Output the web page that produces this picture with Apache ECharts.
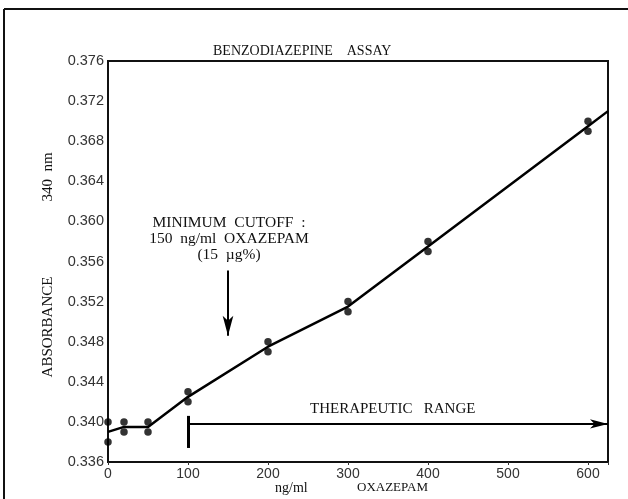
<!DOCTYPE html>
<html>
<head>
<meta charset="UTF-8">
<title>Benzodiazepine Assay</title>
<script src="https://cdn.jsdelivr.net/npm/echarts/dist/echarts.min.js"></script>
<style>
  html, body { margin: 0; padding: 0; background: #fff; }
  #main { width: 628px; height: 499px; }
</style>
</head>
<body>
<div id="main"></div>
<script>
// measured points (ng/ml oxazepam, absorbance 340 nm)
var pointConc = [0, 0, 20, 20, 50, 50, 100, 100, 200, 200, 300, 300, 400, 400, 600, 600];
var pointAbs  = [0.340, 0.338, 0.340, 0.339, 0.340, 0.339, 0.343, 0.342, 0.348, 0.347, 0.352, 0.351, 0.358, 0.357, 0.370, 0.369];

// fitted curve
var curveConc = [0, 20, 50, 100, 200, 300, 400, 600, 625];
var curveAbs  = [0.339, 0.3395, 0.3395, 0.3425, 0.3475, 0.3515, 0.3575, 0.3695, 0.371];

// annotations
var rangeStart = 100, rangeEnd = 625, rangeAbs = 0.3398;
var rangeBar = [0.3406, 0.3374];
var cutoffConc = 150, cutoffArrow = [0.3551, 0.3486];

var xTicks = [0, 100, 200, 300, 400, 500, 600];

var chart = echarts.init(document.getElementById('main'));

var serif = '"Liberation Serif", "DejaVu Serif", serif';
var sans = '"Liberation Sans", Arial, sans-serif';

var option = {
  animation: false,
  grid: { left: 108, top: 61, right: 20, bottom: 37, show: true, borderColor: '#111', borderWidth: 2, backgroundColor: 'transparent' },
  xAxis: {
    type: 'value', min: 0, max: 625, interval: 100,
    axisLine: { show: false },
    axisTick: { show: true, length: 3, lineStyle: { color: '#333' } },
    splitLine: { show: false },
    axisLabel: {
      color: '#333', fontFamily: sans, fontSize: 14, margin: 5,
      formatter: function (v) { return xTicks.indexOf(v) >= 0 ? String(v) : ''; }
    }
  },
  yAxis: {
    type: 'value', min: 0.336, max: 0.376, interval: 0.004,
    axisLine: { show: false },
    axisTick: { show: false },
    splitLine: { show: false },
    axisLabel: {
      color: '#333', fontFamily: sans, fontSize: 14.5, margin: 4,
      formatter: function (v) { return v.toFixed(3); }
    }
  },
  series: [
    {
      type: 'line',
      data: curveConc.map(function (c, i) { return [c, curveAbs[i]]; }),
      showSymbol: false,
      symbol: 'none',
      lineStyle: { color: '#000', width: 2.5 },
      markLine: {
        silent: true,
        label: { show: false },
        data: [
          [
            { coord: [rangeStart, rangeAbs], symbol: 'none' },
            { coord: [rangeEnd, rangeAbs], symbol: 'arrow', symbolSize: [7, 18] }
          ],
          [
            { coord: [rangeStart, rangeBar[0]], symbol: 'none' },
            { coord: [rangeStart, rangeBar[1]], symbol: 'none', lineStyle: { width: 3 } }
          ],
          [
            { coord: [cutoffConc, cutoffArrow[0]], symbol: 'none' },
            { coord: [cutoffConc, cutoffArrow[1]], symbol: 'arrow', symbolSize: [8, 20] }
          ]
        ],
        lineStyle: { color: '#000', width: 2, type: 'solid' }
      },
      z: 2
    },
    {
      type: 'scatter',
      data: pointConc.map(function (c, i) { return [c, pointAbs[i]]; }),
      symbol: 'circle',
      symbolSize: 7.5,
      itemStyle: { color: '#000' },
      z: 3
    }
  ],
  graphic: [
    { type: 'line', shape: { x1: 4, y1: 9, x2: 628, y2: 9 }, style: { stroke: '#111', lineWidth: 2 } },
    { type: 'line', shape: { x1: 4, y1: 9, x2: 4, y2: 499 }, style: { stroke: '#111', lineWidth: 2 } },
    { type: 'text', left: 213, top: 44, style: { text: 'BENZODIAZEPINE    ASSAY', font: '14px ' + serif, fill: '#111' } },
    { type: 'text', x: 229, y: 215, style: { text: 'MINIMUM  CUTOFF  :\n150  ng/ml  OXAZEPAM\n(15  \u00b5g%)', font: '15.5px ' + serif, fill: '#111', textAlign: 'center', lineHeight: 16 } },
    { type: 'text', left: 310, top: 402, style: { text: 'THERAPEUTIC   RANGE', font: '15px ' + serif, fill: '#111' } },
    { type: 'text', left: 275, top: 481, style: { text: 'ng/ml', font: '14px ' + serif, fill: '#111' } },
    { type: 'text', left: 357, top: 481, style: { text: 'OXAZEPAM', font: '13px ' + serif, fill: '#111' } },
    { type: 'text', x: 48, y: 327, rotation: Math.PI / 2, style: { text: 'ABSORBANCE', font: '15px ' + serif, fill: '#111', textAlign: 'center', textVerticalAlign: 'middle' } },
    { type: 'text', x: 48, y: 177, rotation: Math.PI / 2, style: { text: '340  nm', font: '15px ' + serif, fill: '#111', textAlign: 'center', textVerticalAlign: 'middle' } }
  ]
};

chart.setOption(option);
</script>
</body>
</html>
